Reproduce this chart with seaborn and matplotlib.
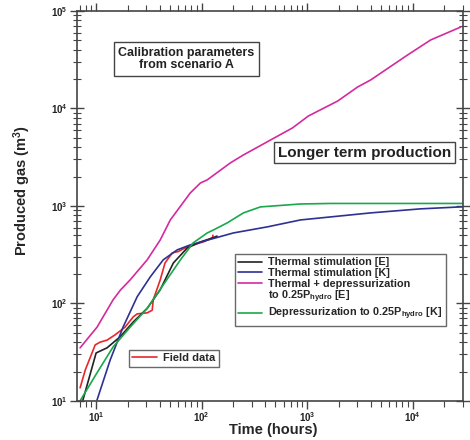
import numpy as np
import pandas as pd
import matplotlib
matplotlib.use("Agg")
import matplotlib.pyplot as plt
import seaborn as sns
from matplotlib.lines import Line2D
from matplotlib.ticker import LogLocator, FixedFormatter, FixedLocator, NullFormatter

# ---- data ----
field_t = [7.05, 7.9, 9.8, 10.9, 12.7, 15.1, 18.8, 22.5, 24.5, 30.5, 34, 34.8, 40.5, 45, 52.7, 60, 69.5, 83, 104, 127, 128]
field_g = [13.6, 20.8, 37.5, 40, 42, 47.5, 57, 72.8, 78, 80, 85, 109, 174, 260, 330, 340, 370, 398, 428, 470, 500]

thermE_t = [7.5, 10, 12.7, 16.9, 22.5, 30.5, 40.5, 54, 73, 97.5, 127, 140]
thermE_g = [10.2, 31, 35, 45.5, 64.5, 89, 138, 260, 370, 427, 470, 490]

thermK_t = [10.2, 13.6, 18, 24.5, 32.6, 43.3, 58.7, 78, 113, 200, 421, 865, 1667, 4000, 11900, 30000]
thermK_g = [10.2, 26.3, 57, 117, 187, 280, 354, 398, 445, 528, 610, 718, 771, 848, 933, 980]

depE_t = [7.05, 10.2, 14.5, 17, 21, 30.5, 40.5, 50.5, 78, 97.5, 113, 187, 249, 726, 1030, 1945, 3010, 4000, 8970, 14850, 28600]
depE_g = [35, 57, 109, 137, 174, 280, 447, 718, 1358, 1720, 1850, 2760, 3335, 6310, 8380, 11900, 16600, 19600, 35400, 50500, 68500]

depK_t = [7.05, 10.2, 14.5, 21, 30.5, 43.3, 63, 83, 113, 130, 175, 249, 361, 865, 1667, 30000]
depK_g = [10, 19.4, 35.8, 57, 89, 155, 280, 417, 528, 568, 670, 848, 977, 1047, 1060, 1060]

labels = ["Thermal stimulation [E]", "Thermal stimulation [K]",
          "Thermal + depressurization", "to 0.25P$_{hydro}$ [E]",
          "Depressurization to 0.25P$_{hydro}$ [K]"]
field_label = "Field data"
x_ticks = [10, 100, 1000, 10000]
x_ticklabels = ["10$^{1}$", "10$^{2}$", "10$^{3}$", "10$^{4}$"]
y_ticks = [10, 100, 1000, 10000, 100000]
y_ticklabels = ["10$^{1}$", "10$^{2}$", "10$^{3}$", "10$^{4}$", "10$^{5}$"]

sns.set_theme(style="ticks")
plt.rcParams['font.family'] = ['Liberation Sans', 'DejaVu Sans']
plt.rcParams['font.weight'] = 'bold'
plt.rcParams['mathtext.fontset'] = 'custom'
plt.rcParams['mathtext.rm'] = 'Liberation Sans:bold'
plt.rcParams['mathtext.bf'] = 'Liberation Sans:bold'
plt.rcParams['mathtext.default'] = 'bf'

fig = plt.figure(figsize=(4.7, 4.4), dpi=100)
ax = fig.add_axes([0.164, 0.089, 0.821, 0.886])

lw = 1.2
sns.lineplot(x=field_t, y=field_g, color="#e8262b", lw=lw, sort=False, ax=ax)
h_field = ax.lines[-1]
series = [(thermE_t, thermE_g, "#222222"), (thermK_t, thermK_g, "#2e3192"),
          (depE_t, depE_g, "#d42a9e"), (depK_t, depK_g, "#19a84a")]
handles = []
for (t, g, c) in series:
    sns.lineplot(x=t, y=g, color=c, lw=lw, sort=False, ax=ax)
    handles.append(ax.lines[-1])
blank = Line2D([], [], color="none")
handles = [handles[0], handles[1], handles[2], blank, handles[3]]

ax.set_xscale("log")
ax.set_yscale("log")
ax.set_xlim(6.6, 30000)
ax.set_ylim(10, 100000)

for s in ax.spines.values():
    s.set_color("#444444")
    s.set_linewidth(1.2)

ax.xaxis.set_major_locator(FixedLocator(x_ticks))
ax.xaxis.set_major_formatter(FixedFormatter(x_ticklabels))
ax.yaxis.set_major_locator(FixedLocator(y_ticks))
ax.yaxis.set_major_formatter(FixedFormatter(y_ticklabels))
ax.xaxis.set_minor_locator(LogLocator(base=10, subs=np.arange(2, 10), numticks=20))
ax.yaxis.set_minor_locator(LogLocator(base=10, subs=np.arange(2, 10), numticks=20))
ax.xaxis.set_minor_formatter(NullFormatter())
ax.yaxis.set_minor_formatter(NullFormatter())

ax.tick_params(axis="both", which="both", top=True, right=True, colors="#444444", labelcolor="#222222")
ax.tick_params(axis="x", which="major", direction="out", length=6, width=1, labelsize=7, pad=1)
ax.tick_params(axis="x", which="minor", direction="out", length=4, width=0.8)
ax.tick_params(axis="y", which="major", direction="inout", length=10, width=1, labelsize=7, pad=2)
ax.tick_params(axis="y", which="minor", direction="inout", length=6, width=0.8)

ax.set_xlabel("Time (hours)", fontsize=10.5, fontweight="bold")
ax.xaxis.set_label_coords(0.508, -0.058)
ax.set_ylabel("Produced gas (m$^{3}$)", fontsize=10.5, fontweight="bold")
ax.yaxis.set_label_coords(-0.115, 0.54)

leg1 = ax.legend(handles, labels, loc="upper left", bbox_to_anchor=(0.395, 0.39),
                 fontsize=7.8, frameon=True, fancybox=False, edgecolor="#444444",
                 handlelength=2.2, handletextpad=0.6, borderpad=0.3, labelspacing=0.05)
leg1.get_frame().set_linewidth(1.0)
ax.add_artist(leg1)
leg2 = ax.legend([h_field], [field_label], loc="upper left", bbox_to_anchor=(0.12, 0.145),
                 fontsize=8, frameon=True, fancybox=False, edgecolor="#444444",
                 handlelength=2.2, handletextpad=0.6, borderpad=0.3)
leg2.get_frame().set_linewidth(1.0)

ax.text(0.283, 0.877, "Calibration parameters\nfrom scenario A", transform=ax.transAxes,
        ha="center", va="center", fontsize=9, fontweight="bold", color="#222222",
        linespacing=1.1,
        bbox=dict(boxstyle="square,pad=0.35", fc="white", ec="#444444", lw=1.0))
ax.text(0.744, 0.637, "Longer term production", transform=ax.transAxes,
        ha="center", va="center", fontsize=11, fontweight="bold", color="#222222",
        bbox=dict(boxstyle="square,pad=0.25", fc="white", ec="#444444", lw=1.0))

fig.savefig("out.png", dpi=100)
